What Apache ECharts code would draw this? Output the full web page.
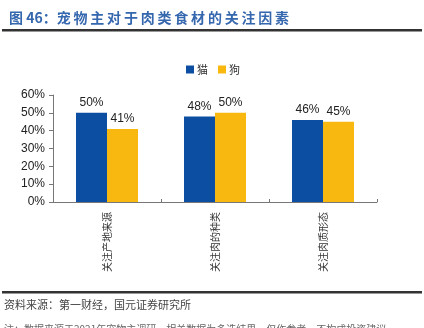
<!DOCTYPE html>
<html><head><meta charset="utf-8">
<script src="https://cdn.jsdelivr.net/npm/echarts@6/dist/echarts.min.js"></script>
<style>html,body{margin:0;padding:0;background:#fff}#c{width:424px;height:328px}</style>
</head><body><div id="c"></div>
<script>
const categories = ['关注产地来源', '关注肉的种类', '关注肉质形态'];
const seriesNames = ['猫', '狗'];
const catValues = [50, 48, 46];
const dogValues = [41, 50, 45];
const yTicks = [0, 10, 20, 30, 40, 50, 60];

const chart = echarts.init(document.getElementById('c'), null, {renderer: 'canvas'});
const font = '"Noto Sans CJK SC", "Liberation Sans", sans-serif';
const spaced = s => s.split('').join('\u2009');
const lbl = {show: true, position: 'top', formatter: '{c}%', color: '#222', fontSize: 12, fontFamily: 'Liberation Sans, Arial', distance: 4};
chart.setOption({
  animation: false,
  textStyle: {fontFamily: font},
  title: [{
    text: '图 46：' + spaced('宠物主对于肉类食材的关注因素'),
    left: 4, top: 6,
    textStyle: {color: '#3567AE', fontSize: 14, fontWeight: 'bold', fontFamily: font}
  }],
  graphic: [
    {type: 'rect', shape: {x: 2, y: 29, width: 420, height: 2.5}, style: {fill: '#333'}},
    {type: 'rect', shape: {x: 2, y: 291, width: 420, height: 2.5}, style: {fill: '#333'}},
    {type: 'text', left: 4, top: 299, style: {text: '资料来源：第一财经，国元证券研究所', fill: '#444', fontSize: 11, fontFamily: font}},
    {type: 'text', left: 4, top: 324, style: {text: '注：数据来源于2021年宠物主调研，相关数据为多选结果，仅作参考，不构成投资建议', fill: '#666', fontSize: 10, fontFamily: font}}
  ],
  legend: {
    data: seriesNames, left: 181, top: 59, itemWidth: 8, itemHeight: 8, itemGap: 10,
    icon: 'rect', textStyle: {fontSize: 11, color: '#333', fontFamily: font, padding: [0, 0, 0, -2]}
  },
  grid: {left: 53, right: 47, top: 95, bottom: 126, containLabel: false},
  xAxis: {
    type: 'category', data: categories,
    axisLine: {lineStyle: {color: '#777', width: 1}},
    axisTick: {show: true, inside: true, length: 3, lineStyle: {color: '#777'}},
    axisLabel: {rotate: 90, fontSize: 10, color: '#333', margin: 10, fontFamily: font}
  },
  yAxis: {
    type: 'value', min: 0, max: 60, interval: 10,
    axisLine: {show: true, lineStyle: {color: '#777'}},
    axisTick: {show: true, length: 4, lineStyle: {color: '#777'}},
    splitLine: {show: false},
    axisLabel: {formatter: v => yTicks.includes(v) ? v + '%' : '', fontSize: 12, color: '#222', margin: 8, fontFamily: 'Liberation Sans, Arial'}
  },
  series: [
    {name: seriesNames[0], type: 'bar', data: catValues, barWidth: 31, barGap: '0%', itemStyle: {color: '#0B4EA2'}, label: lbl},
    {name: seriesNames[1], type: 'bar', data: dogValues, barWidth: 31, barGap: '0%', itemStyle: {color: '#F8B80F'}, label: lbl}
  ]
});
</script></body></html>
